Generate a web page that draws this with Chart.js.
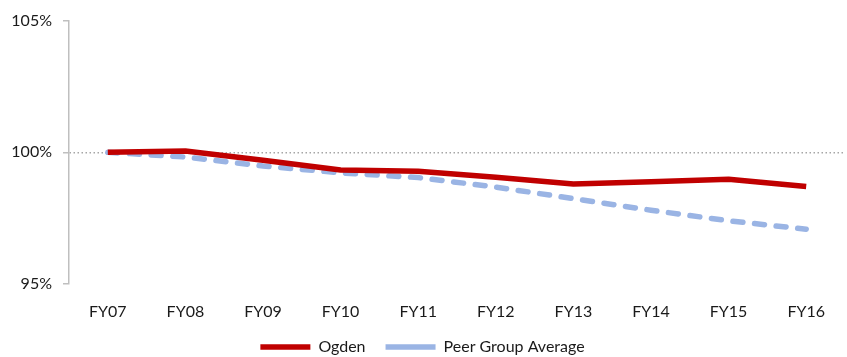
<!DOCTYPE html>
<html>
<head>
<meta charset="utf-8">
<script src="https://cdn.jsdelivr.net/npm/chart.js@4/dist/chart.umd.min.js"></script>
<style>
  html, body { margin: 0; padding: 0; background: #fff; }
  #wrap { width: 847px; height: 357px; position: relative; }
</style>
</head>
<body>
<div id="wrap"><canvas id="trendChart"></canvas></div>
<script>
// 年度指数（FY07 = 100%）
const years = ['FY07', 'FY08', 'FY09', 'FY10', 'FY11', 'FY12', 'FY13', 'FY14', 'FY15', 'FY16'];
const ogden = [100, 100.05, 99.7, 99.33, 99.28, 99.05, 98.8, 98.88, 98.98, 98.7];
const peerAvg = [100, 99.82, 99.48, 99.22, 99.04, 98.68, 98.24, 97.8, 97.4, 97.08];
const yTicks = [95, 100, 105];

const font = { family: 'Lato, "Open Sans", sans-serif', size: 16 };

new Chart(document.getElementById('trendChart'), {
  type: 'line',
  data: {
    labels: years,
    datasets: [
      {
        label: 'Ogden',
        data: ogden,
        borderColor: '#c00000',
        backgroundColor: '#c00000',
        borderWidth: 5.5,
        pointRadius: 0,
        tension: 0,
        borderJoinStyle: 'round'
      },
      {
        label: 'Peer Group Average',
        data: peerAvg,
        borderColor: '#9ab4e4',
        backgroundColor: '#9ab4e4',
        borderWidth: 5.5,
        borderDash: [10, 11.7],
        borderCapStyle: 'round',
        pointRadius: 0,
        tension: 0
      }
    ]
  },
  options: {
    responsive: true,
    maintainAspectRatio: false,
    animation: false,
    layout: { padding: { top: 20, right: 2, left: 0, bottom: -8 } },
    plugins: {
      legend: {
        display: true,
        position: 'bottom',
        labels: {
          usePointStyle: true,
          pointStyle: 'line',
          pointStyleWidth: 50,
          boxWidth: 50,
          padding: 20,
          color: '#1a1a1a',
          font: font
        }
      },
      tooltip: { enabled: false }
    },
    scales: {
      x: {
        offset: true,
        // 刻度标签下方的留白不需要，收紧坐标轴高度
        afterFit: s => { s.height = 35; },
        grid: { display: false, drawTicks: false },
        border: { display: false },
        ticks: { color: '#1a1a1a', font: font, padding: 18.5 }
      },
      y: {
        min: 95,
        max: 105,
        afterBuildTicks: s => { s.ticks = yTicks.map(v => ({ value: v })); },
        afterFit: s => { s.width = 69; },
        grid: {
          color: c => (c.tick && c.tick.value === 100 ? '#a6a6a6' : 'rgba(0,0,0,0)'),
          lineWidth: 1.5,
          drawTicks: true,
          tickLength: 6,
          tickColor: '#bfbfbf',
          tickWidth: 1.5
        },
        border: { display: true, color: '#bfbfbf', width: 1.5, dash: [1.5, 2.5] },
        ticks: {
          color: '#1a1a1a',
          font: font,
          padding: 11,
          callback: v => v + '%'
        }
      }
    }
  }
});
</script>
</body>
</html>
